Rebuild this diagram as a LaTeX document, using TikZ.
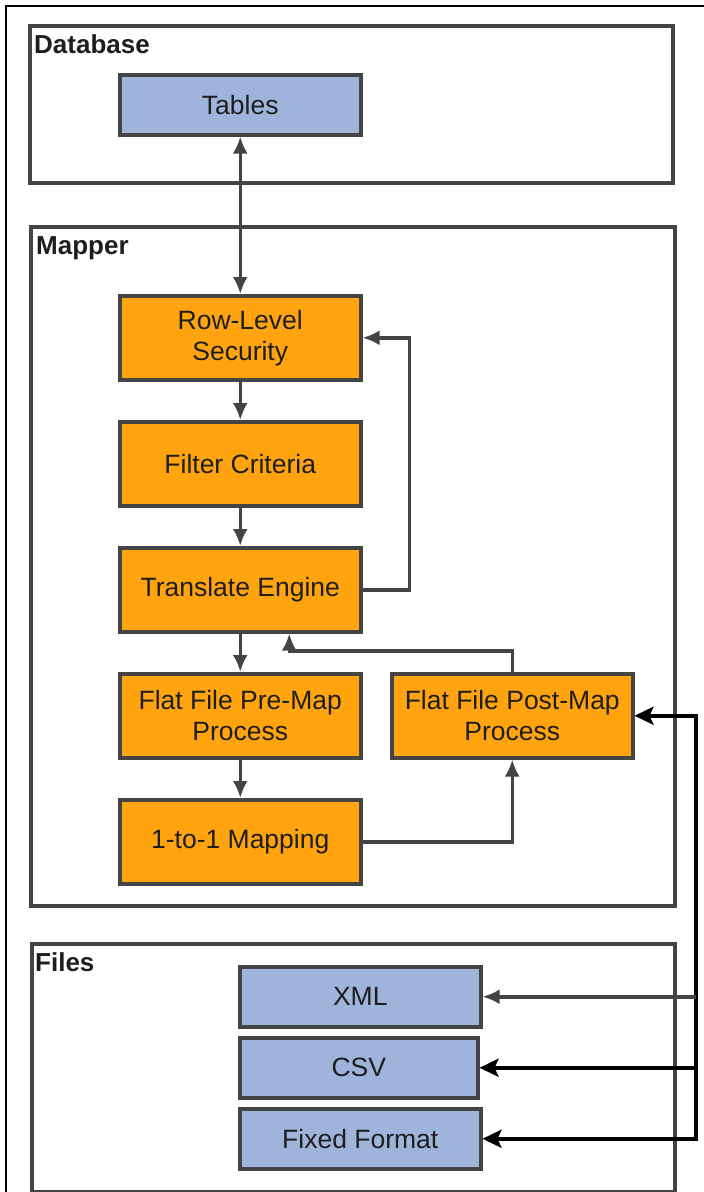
\documentclass[tikz,border=0pt]{standalone}
\usepackage{fontspec}
\setmainfont{Liberation Sans}
\usetikzlibrary{arrows.meta}
\definecolor{orng}{HTML}{FFA40F}
\definecolor{blu}{HTML}{9FB4DA}
\definecolor{edgec}{HTML}{444444}
\definecolor{txt}{HTML}{1E1E1E}
\begin{document}
\begin{tikzpicture}[x=1pt,y=-1pt,
  grp/.style={draw=edgec,line width=3.5pt,fill=white,anchor=north west,inner sep=0pt},
  lbl/.style={anchor=base west,inner sep=0pt,text=txt,font=\fontsize{26}{30}\selectfont\bfseries},
  proc/.style={draw=edgec,line width=3.5pt,fill=orng,anchor=north west,minimum width=241pt,minimum height=84pt,
    inner sep=0pt,align=center,text=txt,font=\fontsize{26.5}{31}\selectfont},
  data/.style={draw=edgec,line width=3.5pt,fill=blu,anchor=north west,minimum width=241pt,minimum height=60pt,
    inner sep=0pt,align=center,text=txt,font=\fontsize{26.5}{31}\selectfont},
  gt/.tip={Latex[length=17pt,width=15pt]},
  arr/.style={draw=edgec,line width=3.5pt,-gt,line join=miter},
  darr/.style={draw=edgec,line width=3.5pt,gt-gt},
  blk/.style={draw=black,line width=4.5pt,line join=miter},
  bt/.tip={Stealth[length=19pt,width=18pt,inset=4pt]}
]
\useasboundingbox (0,0) rectangle (704,1192);
\fill[white] (0,0) rectangle (704,1192);
\draw[black,line width=1.8pt] (6,1200) -- (6,6) -- (710,6);

% groups
\node[grp,minimum width=643pt,minimum height=157pt] (db) at (28,24) {};
\node[lbl] (dblbl) at (34,53) {Database};
\node[grp,minimum width=644pt,minimum height=679pt] (mapper) at (29,225) {};
\node[lbl] (maplbl) at (36,254) {Mapper};
\node[grp,minimum width=643pt,minimum height=248pt] (files) at (30,942) {};
\node[lbl] (filelbl) at (35,971) {Files};

% nodes
\node[data] (tables) at (118,73) {Tables};
\node[proc] (rls) at (118,294) {Row-Level\\Security};
\node[proc] (fc) at (118,420) {Filter Criteria};
\node[proc] (te) at (118,546) {Translate Engine};
\node[proc] (pre) at (118,672) {Flat File Pre-Map\\Process};
\node[proc] (map) at (118,798) {1-to-1 Mapping};
\node[proc] (post) at (390,672) {Flat File Post-Map\\Process};
\node[data] (xml) at (238,965) {XML};
\node[data,minimum width=238pt] (csv) at (238,1036) {CSV};
\node[data] (fixed) at (238,1107) {Fixed Format};

\coordinate (bus) at (696,0);

% connectors
\draw[darr] (tables.south) -- (rls.north);
\draw[arr] (rls.south) -- (fc.north);
\draw[arr] (fc.south) -- (te.north);
\draw[arr] (te.south) -- (pre.north);
\draw[arr] (pre.south) -- (map.north);
\draw[arr] (te.east) -- ++(47,0) |- (rls.east);
\draw[arr] (post.north) -- ++(0,-21) -| ([xshift=49pt]te.south);
\draw[arr] (map.east) -| (post.south);

\draw[blk,bt-bt] (post.east) -| (fixed.east -| bus) -- (fixed.east);
\draw[blk,-bt] (csv.east -| bus) -- (csv.east);
\draw[arr] (xml.east -| bus) -- (xml.east);
\end{tikzpicture}
\end{document}
